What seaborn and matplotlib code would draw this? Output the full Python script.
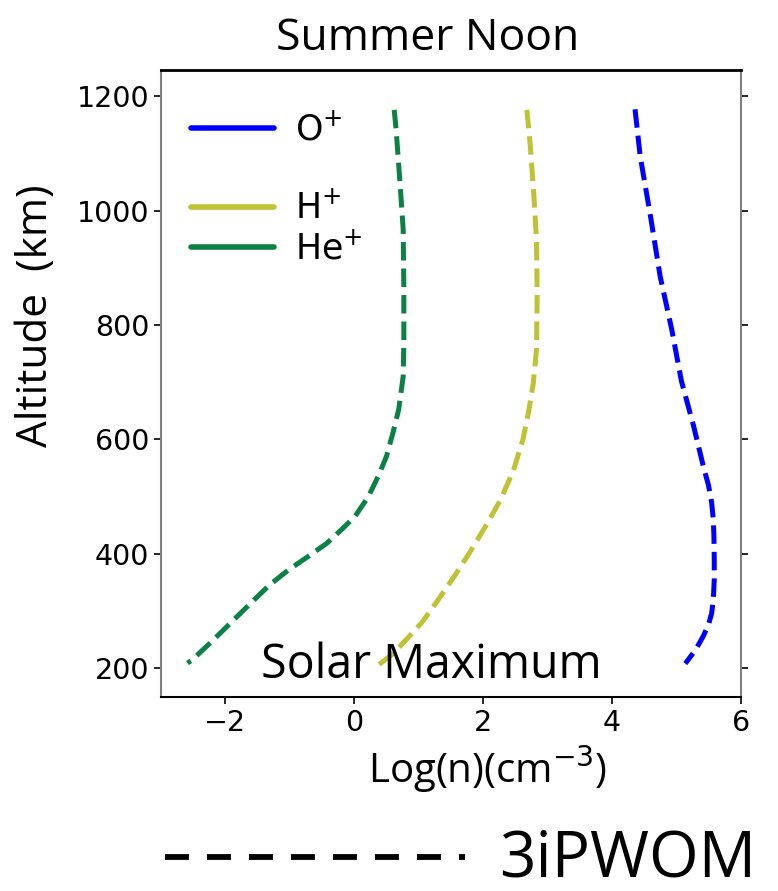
import numpy as np
import pandas as pd
import matplotlib
matplotlib.use("Agg")
import matplotlib.pyplot as plt
from matplotlib.lines import Line2D
import seaborn as sns

# ---- data ----
o_alt = [1177, 1095, 990, 885, 792, 702, 623, 553, 520, 489, 460, 430, 390, 354, 320, 296, 276, 256, 232, 208]
o_logn = [4.36, 4.44, 4.60, 4.75, 4.93, 5.08, 5.27, 5.42, 5.50, 5.55, 5.575, 5.585, 5.59, 5.59, 5.575, 5.55, 5.50, 5.42, 5.30, 5.14]

h_alt = [1176, 1118, 1025, 949, 850, 757, 698, 650, 600, 545, 494, 450, 400, 360, 319, 280, 249, 225, 205]
h_logn = [2.68, 2.73, 2.79, 2.83, 2.84, 2.83, 2.78, 2.71, 2.62, 2.47, 2.27, 2.05, 1.78, 1.55, 1.30, 1.05, 0.80, 0.60, 0.37]

he_alt = [1176, 1142, 1049, 967, 862, 769, 710, 652, 611, 570, 535, 500, 465, 442, 418, 395, 371, 345, 310, 279, 247, 214, 209]
he_logn = [0.62, 0.65, 0.71, 0.76, 0.77, 0.77, 0.76, 0.69, 0.60, 0.50, 0.37, 0.22, 0.01, -0.20, -0.43, -0.72, -1.03, -1.32, -1.64, -1.92, -2.21, -2.52, -2.59]

species = ["O$^{+}$", "H$^{+}$", "He$^{+}$"]
colors = ["#0000ff", "#bfc234", "#0b8243"]
xticks = [-2, 0, 2, 4, 6]
yticks = [200, 400, 600, 800, 1000, 1200]

sns.set_style("white")
plt.rcParams["font.family"] = ["Open Sans", "DejaVu Sans"]
plt.rcParams["mathtext.fontset"] = "dejavusans"
plt.rcParams["text.color"] = "black"
plt.rcParams["axes.labelcolor"] = "black"
plt.rcParams["xtick.color"] = "black"
plt.rcParams["ytick.color"] = "black"

fig = plt.figure(figsize=(7.78, 8.91), dpi=100)
ax = fig.add_axes([0.207, 0.218, 0.745, 0.703])

for alt, logn, col in zip([o_alt, h_alt, he_alt], [o_logn, h_logn, he_logn], colors):
    df = pd.DataFrame({"logn": logn, "alt": alt})
    sns.lineplot(data=df, x="logn", y="alt", sort=False, estimator=None,
                 color=col, lw=3.6, linestyle="--", ax=ax)

ax.set_xlim(-3, 6)
ax.set_ylim(150, 1245)
ax.set_xticks(xticks)
ax.set_yticks(yticks)
ax.tick_params(axis="both", labelsize=20.5, direction="out", length=5, width=1.2,
               colors="black", bottom=True, left=True)
for lab in ax.get_xticklabels() + ax.get_yticklabels():
    lab.set_family("DejaVu Sans")
ax.tick_params(axis="y", right=True, which="major")
for s in ["left", "right"]:
    ax.spines[s].set_color("#808080")
    ax.spines[s].set_linewidth(1.5)
ax.spines["top"].set_color("black")
ax.spines["top"].set_linewidth(2)
ax.spines["bottom"].set_color("black")
ax.spines["bottom"].set_linewidth(1.5)

ax.set_xlabel("Log(n)(cm$^{-3}$)", fontsize=29)
ax.set_ylabel("Altitude  (km)", fontsize=30.5)
ax.xaxis.set_label_coords(0.564, -0.075)
ax.yaxis.set_label_coords(-0.18, 0.609)

handles = [
    Line2D([], [], color=colors[0], lw=4),
    Line2D([], [], color="none", lw=4),
    Line2D([], [], color=colors[1], lw=4),
    Line2D([], [], color=colors[2], lw=4),
]
labels = [species[0], " ", species[1], species[2]]
leg = ax.legend(handles, labels, loc="upper left", frameon=False, fontsize=25,
                handlelength=2.4, handletextpad=0.6, labelspacing=0.15,
                borderaxespad=0.3, bbox_to_anchor=(0.01, 0.972))
for t in leg.get_texts():
    t.set_family("DejaVu Sans")

ax.text(0.467, 0.012, "Solar Maximum", transform=ax.transAxes, ha="center",
        va="bottom", fontsize=33.5)

fig.text(0.55, 0.944, "Summer Noon", ha="center", va="baseline", fontsize=32)

fig.add_artist(Line2D([0.212, 0.598], [0.038, 0.038], transform=fig.transFigure,
                      color="black", lw=4.2, dashes=(4.1, 3.1)))
fig.text(0.642, 0.016, "3iPWOM", ha="left", va="baseline", fontsize=46)

fig.savefig("out.png", dpi=100)
